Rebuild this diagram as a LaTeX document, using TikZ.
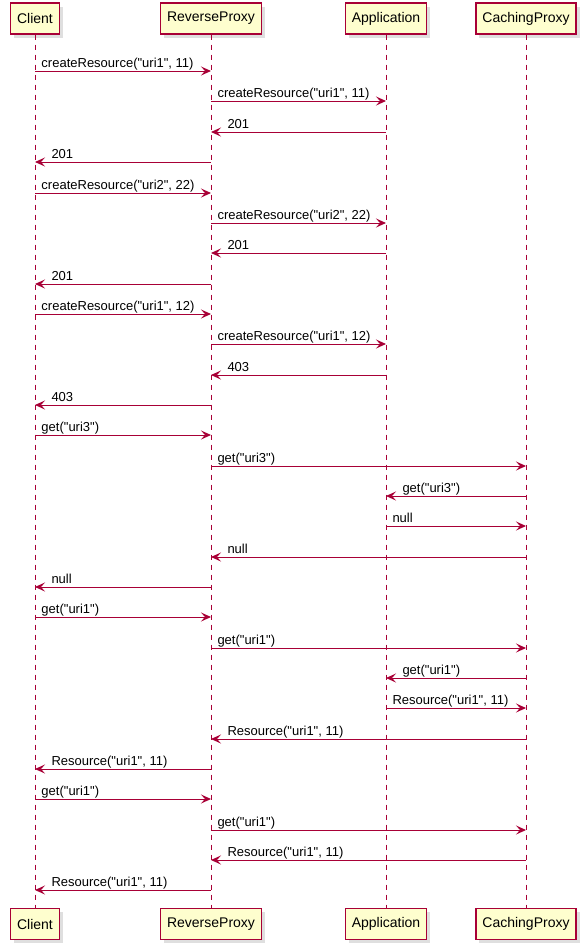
\documentclass[tikz,border=0pt]{standalone}
\usepackage{fontspec}
\setmainfont{Liberation Sans}[Ligatures=TeXOff]
\usepackage{xcolor}
\usepackage{tikz}
\usetikzlibrary{arrows.meta, shadows}
\definecolor{umlred}{HTML}{A80036}
\definecolor{umlfill}{HTML}{FEFECE}

\begin{document}
\begin{tikzpicture}[x=1pt, y=-1pt]
% Define styles
\tikzstyle{party} = [draw=umlred, line width=1.3pt, fill=umlfill, font=\fontsize{14pt}{16pt}\selectfont, minimum height=31pt, inner xsep=6.5pt, drop shadow={shadow xshift=3.5pt, shadow yshift=-3.5pt, opacity=0.25, fill=gray}]
\tikzstyle{life} = [draw=umlred, line width=0.9pt, dash pattern=on 5pt off 5pt]
\tikzstyle{msg} = [draw=umlred, line width=1pt, -{Stealth[length=10pt, width=9pt, inset=4pt]}]
\tikzstyle{rlbl} = [anchor=base west, inner sep=0pt, xshift=6pt, yshift=4pt, font=\fontsize{13pt}{15pt}\selectfont]
\tikzstyle{llbl} = [anchor=base west, inner sep=0pt, xshift=16pt, yshift=4pt, font=\fontsize{13pt}{15pt}\selectfont]
\useasboundingbox (0,0) rectangle (586,951);
% Define nodes
\node[party] (client) at (35,18.5) {Client};
\node[party] (rproxy) at (211,18.5) {ReverseProxy};
\node[party] (app) at (386,18.5) {Application};
\node[party] (cproxy) at (526,18.5) {CachingProxy};
\node[party] (client_b) at (35,924) {Client};
\node[party] (rproxy_b) at (211,924) {ReverseProxy};
\node[party] (app_b) at (386,924) {Application};
\node[party] (cproxy_b) at (526,924) {CachingProxy};
% Lifelines
\draw[life] (client) -- (client_b);
\draw[life] (rproxy) -- (rproxy_b);
\draw[life] (app) -- (app_b);
\draw[life] (cproxy) -- (cproxy_b);
% Connect the nodes
\draw[msg] (client |- 0,71) -- node[rlbl, pos=0] {createResource("uri1", 11)} (rproxy |- 0,71);
\draw[msg] (rproxy |- 0,101) -- node[rlbl, pos=0] {createResource("uri1", 11)} (app |- 0,101);
\draw[msg] (app |- 0,132) -- node[llbl, pos=1] {201} (rproxy |- 0,132);
\draw[msg] (rproxy |- 0,162) -- node[llbl, pos=1] {201} (client |- 0,162);
\draw[msg] (client |- 0,193) -- node[rlbl, pos=0] {createResource("uri2", 22)} (rproxy |- 0,193);
\draw[msg] (rproxy |- 0,223) -- node[rlbl, pos=0] {createResource("uri2", 22)} (app |- 0,223);
\draw[msg] (app |- 0,253) -- node[llbl, pos=1] {201} (rproxy |- 0,253);
\draw[msg] (rproxy |- 0,284) -- node[llbl, pos=1] {201} (client |- 0,284);
\draw[msg] (client |- 0,314) -- node[rlbl, pos=0] {createResource("uri1", 12)} (rproxy |- 0,314);
\draw[msg] (rproxy |- 0,344) -- node[rlbl, pos=0] {createResource("uri1", 12)} (app |- 0,344);
\draw[msg] (app |- 0,375) -- node[llbl, pos=1] {403} (rproxy |- 0,375);
\draw[msg] (rproxy |- 0,405) -- node[llbl, pos=1] {403} (client |- 0,405);
\draw[msg] (client |- 0,435) -- node[rlbl, pos=0] {get("uri3")} (rproxy |- 0,435);
\draw[msg] (rproxy |- 0,466) -- node[rlbl, pos=0] {get("uri3")} (cproxy |- 0,466);
\draw[msg] (cproxy |- 0,496) -- node[llbl, pos=1] {get("uri3")} (app |- 0,496);
\draw[msg] (app |- 0,526) -- node[rlbl, pos=0] {null} (cproxy |- 0,526);
\draw[msg] (cproxy |- 0,557) -- node[llbl, pos=1] {null} (rproxy |- 0,557);
\draw[msg] (rproxy |- 0,587) -- node[llbl, pos=1] {null} (client |- 0,587);
\draw[msg] (client |- 0,617) -- node[rlbl, pos=0] {get("uri1")} (rproxy |- 0,617);
\draw[msg] (rproxy |- 0,648) -- node[rlbl, pos=0] {get("uri1")} (cproxy |- 0,648);
\draw[msg] (cproxy |- 0,678) -- node[llbl, pos=1] {get("uri1")} (app |- 0,678);
\draw[msg] (app |- 0,708) -- node[rlbl, pos=0] {Resource("uri1", 11)} (cproxy |- 0,708);
\draw[msg] (cproxy |- 0,739) -- node[llbl, pos=1] {Resource("uri1", 11)} (rproxy |- 0,739);
\draw[msg] (rproxy |- 0,769) -- node[llbl, pos=1] {Resource("uri1", 11)} (client |- 0,769);
\draw[msg] (client |- 0,799) -- node[rlbl, pos=0] {get("uri1")} (rproxy |- 0,799);
\draw[msg] (rproxy |- 0,830) -- node[rlbl, pos=0] {get("uri1")} (cproxy |- 0,830);
\draw[msg] (cproxy |- 0,860) -- node[llbl, pos=1] {Resource("uri1", 11)} (rproxy |- 0,860);
\draw[msg] (rproxy |- 0,890) -- node[llbl, pos=1] {Resource("uri1", 11)} (client |- 0,890);
\end{tikzpicture}
\end{document}
